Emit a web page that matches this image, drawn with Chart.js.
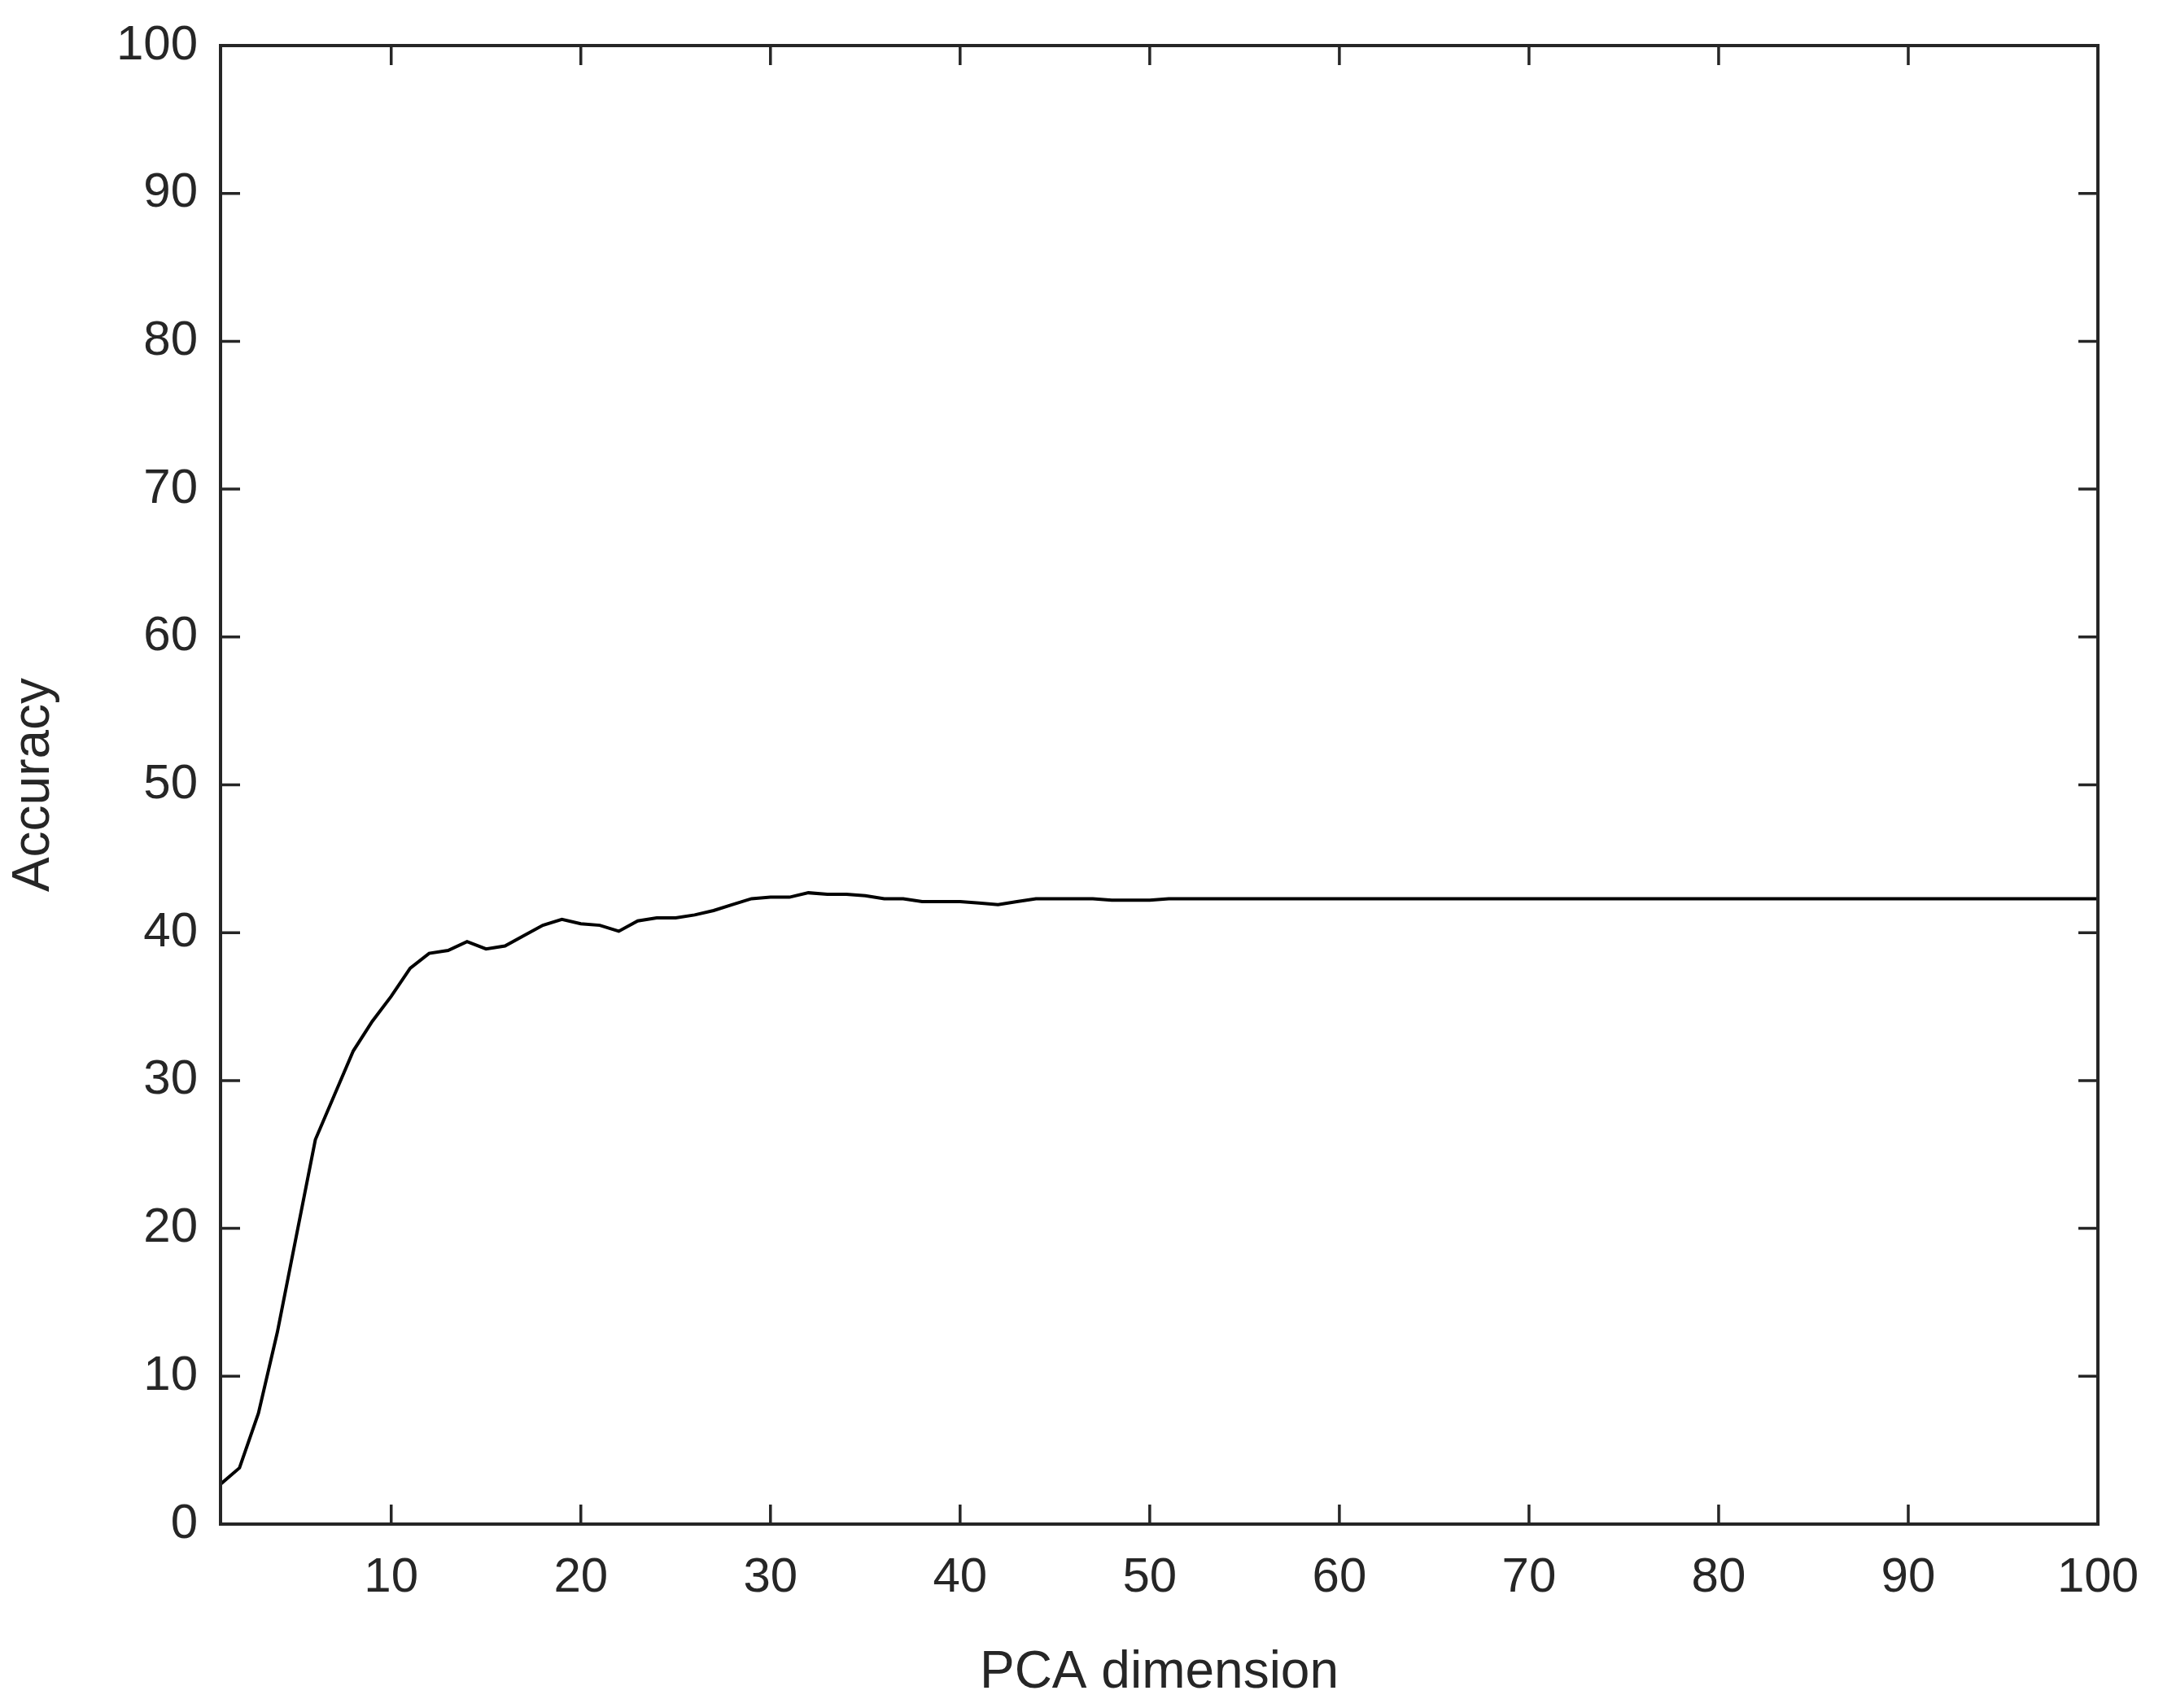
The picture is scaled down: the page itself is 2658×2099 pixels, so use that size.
<!DOCTYPE html>
<html><head><meta charset="utf-8">
<script src="https://cdn.jsdelivr.net/npm/chart.js@4"></script>
<style>html,body{margin:0;padding:0;background:#fff}#wrap{width:2658px;height:2099px}</style>
</head><body><div id="wrap"><canvas id="c" width="2658" height="2099"></canvas></div>
<script>
const dims = [];
for (let i = 1; i <= 100; i++) dims.push(i);
const accEarly = [2.7,3.8,7.5,13,19.5,26,29,32,34,35.7,37.6,38.6,38.8,39.4,38.9,39.1,39.8,40.5,40.9,40.6,40.5,40.1,40.8,41,41,41.2,41.5,41.9,42.3,42.4,42.4,42.7,42.6,42.6,42.5,42.3,42.3,42.1,42.1,42.1,42.0,41.9,42.1,42.3,42.3,42.3,42.3,42.2,42.2,42.2,42.3,42.3,42.3];
const accuracy = dims.map((d,i)=> i < accEarly.length ? accEarly[i] : 42.3);
const xTicks = [10,20,30,40,50,60,70,80,90,100];
const yTicks = [0,10,20,30,40,50,60,70,80,90,100];
const col = '#262626';
const font = {family:'Arial, Liberation Sans, sans-serif', size:60};
const tickPlugin = {
  id:'inTicks',
  afterDraw(ch){
    const c = ch.ctx, a = ch.chartArea, L = 24;
    c.save(); c.strokeStyle = col; c.lineWidth = 3.5;
    const xs = ch.scales.x, ys = ch.scales.y;
    xTicks.forEach(v=>{const p=xs.getPixelForValue(v);c.beginPath();c.moveTo(p,a.bottom);c.lineTo(p,a.bottom-L);c.moveTo(p,a.top);c.lineTo(p,a.top+L);c.stroke();});
    yTicks.forEach(v=>{const p=ys.getPixelForValue(v);c.beginPath();c.moveTo(a.left,p);c.lineTo(a.left+L,p);c.moveTo(a.right,p);c.lineTo(a.right-L,p);c.stroke();});
    c.lineWidth = 4; c.strokeRect(a.left,a.top,a.right-a.left,a.bottom-a.top);
    c.restore();
  }
};
new Chart(document.getElementById('c'), {
  type:'line',
  data:{datasets:[{data:dims.map((d,i)=>({x:d,y:accuracy[i]})),borderColor:'#000',borderWidth:4,pointRadius:0,tension:0,fill:false}]},
  options:{
    responsive:false, devicePixelRatio:1, animation:false,
    layout:{padding:0},
    plugins:{legend:{display:false},tooltip:{enabled:false}},
    scales:{
      x:{type:'linear',min:1,max:100,
        afterBuildTicks(s){s.ticks=xTicks.map(v=>({value:v}));},
        afterFit(s){s.height=226;},
        grid:{display:false},border:{display:false},
        ticks:{color:col,font,padding:22,maxRotation:0},
        title:{display:true,text:'PCA dimension',color:col,font:{...font,size:64},padding:{top:10}}},
      y:{type:'linear',min:0,max:100,
        afterBuildTicks(s){s.ticks=yTicks.map(v=>({value:v}));},
        afterFit(s){s.width=271;},
        grid:{display:false},border:{display:false},
        ticks:{color:col,font,padding:20},
        title:{display:true,text:'Accuracy',color:col,font:{...font,size:64},padding:{bottom:10}}},
      x2:{type:'linear',position:'top',min:1,max:100,afterFit(s){s.height=53;},grid:{display:false},border:{display:false},ticks:{display:false}},
      y2:{type:'linear',position:'right',min:0,max:100,afterFit(s){s.width=80;},grid:{display:false},border:{display:false},ticks:{display:false}}
    }
  },
  plugins:[tickPlugin]
});
</script></body></html>
